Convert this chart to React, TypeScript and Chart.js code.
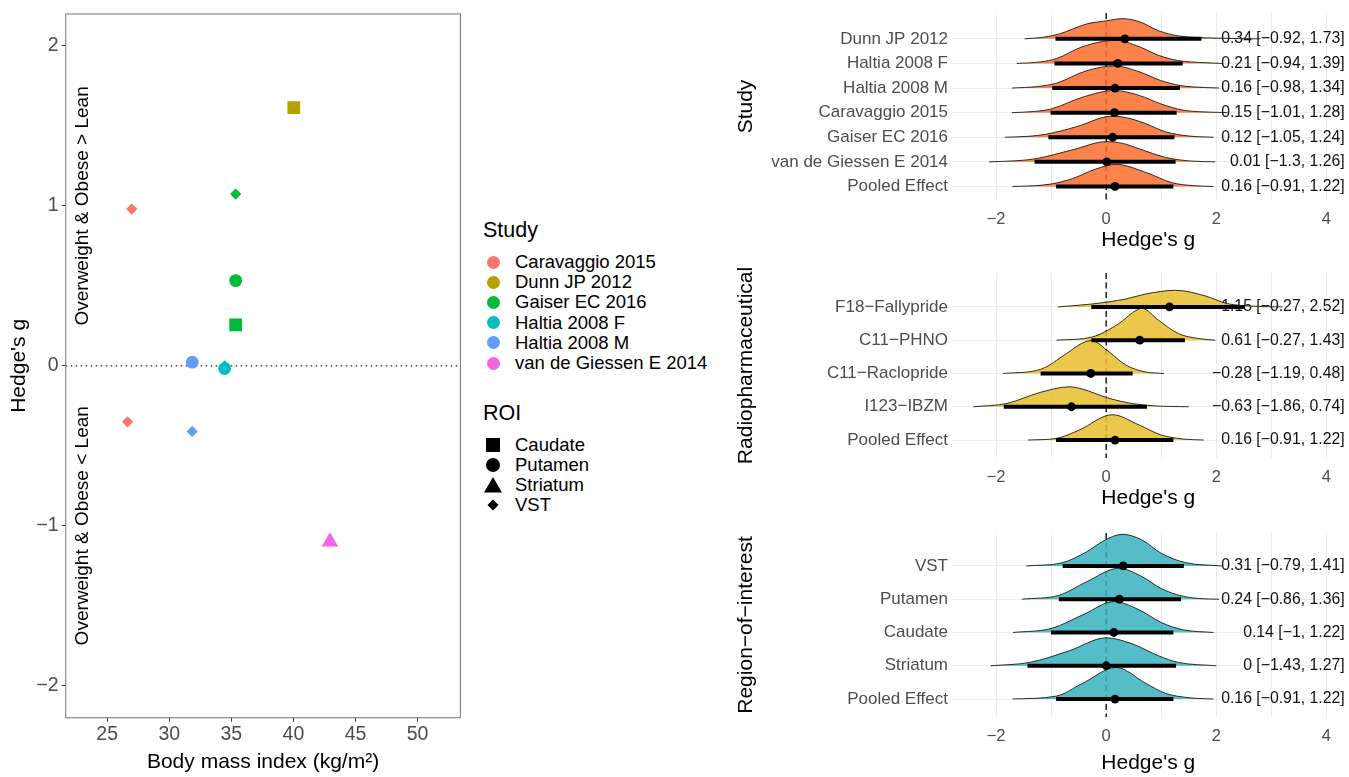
import React, { useEffect, useRef } from "react";
import { Chart, registerables } from "chart.js";

Chart.register(...registerables);

const FONT = '"Liberation Sans", Arial, Helvetica, sans-serif';
Chart.defaults.font.family = FONT;

// ---------- Scatter (left) data ----------
const studies = ["Caravaggio 2015", "Dunn JP 2012", "Gaiser EC 2016", "Haltia 2008 F", "Haltia 2008 M", "van de Giessen E 2014"];
const studyColors = ["#F8766D", "#B79F00", "#00BA38", "#00BFC4", "#619CFF", "#F564E3"];
const roiNames = ["Caudate", "Putamen", "Striatum", "VST"];
const roiStyles = ["rect", "circle", "triangle", "rectRot"];
const roiSizes = [9, 6.4, 9.6, 5.6];

const ptStudy = [0, 0, 1, 2, 2, 2, 4, 4, 3, 3, 5];
const ptRoi = [3, 3, 0, 3, 1, 0, 1, 3, 3, 1, 2];
const ptBmi = [26.98, 26.64, 40.03, 35.35, 35.35, 35.35, 31.85, 31.85, 34.46, 34.46, 42.94];
const ptG = [0.98, -0.35, 1.615, 1.074, 0.533, 0.256, 0.023, -0.41, 0.0, -0.017, -1.1];

const bmiTicks = [25, 30, 35, 40, 45, 50];
const gTicks = [-2, -1, 0, 1, 2];
const annoText = ["Overweight & Obese > Lean", "Overweight & Obese < Lean"];
const annoBmi = [23, 23];
const annoG = [1, -1];

// ---------- Ridge panels data ----------
const hedgeTicks = [-2, -1, 0, 1, 2, 3, 4];
const hedgeLabelled = [-2, 0, 2, 4];

const studyRows = ["Dunn JP 2012", "Haltia 2008 F", "Haltia 2008 M", "Caravaggio 2015", "Gaiser EC 2016", "van de Giessen E 2014", "Pooled Effect"];
const studyMean = [0.34, 0.21, 0.16, 0.15, 0.12, 0.01, 0.16];
const studyLo = [-0.92, -0.94, -0.98, -1.01, -1.05, -1.3, -0.91];
const studyHi = [1.73, 1.39, 1.34, 1.28, 1.24, 1.26, 1.22];
const studyDensX = [
  [-1.48, -1.15, -0.85, -0.36, 0, 0.29, 0.6, 0.95, 1.31, 2.0, 2.8],
  [-1.62, -1.2, -0.9, -0.43, 0.18, 0.6, 0.95, 1.3, 1.8, 2.1],
  [-1.71, -1.25, -0.9, -0.36, 0.16, 0.6, 1.0, 1.35, 1.8, 2.05],
  [-1.71, -1.3, -1.0, -0.4, 0.15, 0.6, 1.0, 1.4, 1.9, 2.2],
  [-1.84, -1.4, -1.1, -0.55, 0.11, 0.45, 0.72, 1.08, 1.5, 1.95],
  [-2.13, -1.6, -1.27, -0.61, 0, 0.3, 0.6, 1.08, 1.5, 1.98],
  [-1.7, -1.3, -1.0, -0.61, -0.2, 0.18, 0.72, 1.2, 1.6, 1.95],
];
const studyDensH = [
  [0, 0.06, 0.2, 0.6, 0.73, 0.82, 0.7, 0.33, 0.12, 0.03, 0],
  [0, 0.06, 0.2, 0.68, 0.94, 0.68, 0.33, 0.12, 0.03, 0],
  [0, 0.06, 0.2, 0.7, 0.9, 0.66, 0.3, 0.1, 0.02, 0],
  [0, 0.05, 0.15, 0.65, 0.9, 0.7, 0.35, 0.1, 0.02, 0],
  [0, 0.04, 0.12, 0.42, 0.86, 0.75, 0.55, 0.22, 0.05, 0],
  [0, 0.05, 0.13, 0.49, 0.82, 0.75, 0.53, 0.18, 0.04, 0],
  [0, 0.03, 0.1, 0.32, 0.7, 0.9, 0.57, 0.15, 0.03, 0],
];

const radioRows = ["F18\u2212Fallypride", "C11\u2212PHNO", "C11\u2212Raclopride", "I123\u2212IBZM", "Pooled Effect"];
const radioMean = [1.15, 0.61, -0.28, -0.63, 0.16];
const radioLo = [-0.27, -0.27, -1.19, -1.86, -0.91];
const radioHi = [2.52, 1.43, 0.48, 0.74, 1.22];
const radioDensX = [
  [-0.88, -0.25, 0.36, 0.72, 1.26, 1.8, 2.2, 2.7, 3.2],
  [-0.9, -0.25, 0.23, 0.5, 0.65, 0.95, 1.31, 1.68, 1.98],
  [-1.87, -1.2, -0.72, -0.45, -0.27, 0.05, 0.36, 0.7, 1.05],
  [-2.41, -1.8, -1.2, -0.67, -0.43, 0, 0.36, 0.84, 1.5],
  [-1.42, -0.9, -0.49, 0.11, 0.6, 1.0, 1.4, 1.77],
];
const radioDensH = [
  [0, 0.09, 0.24, 0.39, 0.5, 0.33, 0.1, 0.02, 0],
  [0, 0.1, 0.5, 0.85, 0.96, 0.6, 0.2, 0.05, 0],
  [0, 0.12, 0.6, 0.9, 0.99, 0.65, 0.25, 0.05, 0],
  [0, 0.1, 0.43, 0.6, 0.53, 0.28, 0.13, 0.03, 0],
  [0, 0.05, 0.3, 0.76, 0.45, 0.15, 0.03, 0],
];

const roiRows = ["VST", "Putamen", "Caudate", "Striatum", "Pooled Effect"];
const roiMean = [0.31, 0.24, 0.14, 0, 0.16];
const roiLo = [-0.79, -0.86, -1, -1.43, -0.91];
const roiHi = [1.41, 1.36, 1.22, 1.27, 1.22];
const roiDensX = [
  [-1.45, -0.79, -0.36, -0.07, 0.29, 0.65, 1.0, 1.44, 2.1],
  [-1.53, -0.85, -0.36, 0.23, 0.65, 1.0, 1.37, 1.7, 2.05],
  [-1.69, -1.0, -0.4, 0.14, 0.6, 1.0, 1.4, 1.95],
  [-2.1, -1.39, -0.67, 0, 0.47, 0.95, 1.31, 2.0],
  [-1.7, -0.9, -0.43, 0.18, 0.72, 1.08, 1.5, 1.95],
];
const roiDensH = [
  [0, 0.1, 0.42, 0.73, 0.95, 0.78, 0.38, 0.1, 0],
  [0, 0.12, 0.52, 0.93, 0.68, 0.32, 0.1, 0.02, 0],
  [0, 0.12, 0.55, 0.93, 0.68, 0.3, 0.08, 0],
  [0, 0.1, 0.45, 0.84, 0.66, 0.3, 0.1, 0],
  [0, 0.09, 0.47, 0.95, 0.47, 0.17, 0.04, 0],
];

const fmt = (v: number) => String(v).replace("-", "\u2212");

// ---------- Scatter chart ----------
function makeScatter(canvas: HTMLCanvasElement) {
  const decor = {
    id: "scatterDecor",
    beforeDatasetsDraw(chart: any) {
      const { ctx, chartArea: a, scales } = chart;
      const x = scales.x, y = scales.y;
      ctx.save();
      const y0 = y.getPixelForValue(0);
      ctx.setLineDash([1.5, 3.5]);
      ctx.strokeStyle = "#222";
      ctx.lineWidth = 1.3;
      ctx.beginPath();
      ctx.moveTo(a.left, y0);
      ctx.lineTo(a.right, y0);
      ctx.stroke();
      ctx.setLineDash([]);
      ctx.fillStyle = "#000";
      ctx.font = `19px ${FONT}`;
      ctx.textAlign = "center";
      ctx.textBaseline = "middle";
      annoText.forEach((t, i) => {
        ctx.save();
        ctx.translate(x.getPixelForValue(annoBmi[i]), y.getPixelForValue(annoG[i]));
        ctx.rotate(-Math.PI / 2);
        ctx.fillText(t, 0, 0);
        ctx.restore();
      });
      ctx.restore();
    },
    afterDraw(chart: any) {
      const { ctx, chartArea: a } = chart;
      ctx.save();
      ctx.strokeStyle = "#8a8a8a";
      ctx.lineWidth = 1.2;
      ctx.strokeRect(a.left, a.top, a.right - a.left, a.bottom - a.top);
      ctx.restore();
    },
  };
  return new Chart(canvas, {
    type: "scatter",
    data: {
      datasets: [
        {
          data: ptBmi.map((x, i) => ({ x, y: ptG[i] })),
          pointStyle: ptRoi.map((r) => roiStyles[r]) as any,
          pointRadius: ptRoi.map((r) => roiSizes[r]),
          pointBackgroundColor: ptStudy.map((s) => studyColors[s]),
          pointBorderColor: ptStudy.map((s) => studyColors[s]),
          pointBorderWidth: 0,
        },
      ],
    },
    options: {
      animation: false,
      responsive: false,
      events: [],
      layout: { padding: { top: 14, right: 8, left: 0, bottom: 0 } },
      plugins: { legend: { display: false }, tooltip: { enabled: false } },
      scales: {
        x: {
          type: "linear",
          min: 21.66,
          max: 53.45,
          afterBuildTicks: (s: any) => { s.ticks = bmiTicks.map((v) => ({ value: v })); },
          ticks: { callback: (v: any) => fmt(v), font: { size: 19.5 }, color: "#4D4D4D", padding: 1, maxRotation: 0, autoSkip: false },
          grid: { display: true, drawOnChartArea: false, drawTicks: true, tickLength: 4, tickColor: "#333", tickWidth: 1 },
          border: { display: false },
          title: { display: true, text: "Body mass index (kg/m\u00B2)", font: { size: 21 }, color: "#000", padding: { top: 0, bottom: 2 } },
          afterFit: (s: any) => { s.height = 59.3; s.paddingLeft = 0; s.paddingRight = 0; },
        },
        y: {
          type: "linear",
          min: -2.2,
          max: 2.2,
          afterBuildTicks: (s: any) => { s.ticks = gTicks.map((v) => ({ value: v })); },
          ticks: { callback: (v: any) => fmt(v), font: { size: 19.5 }, color: "#4D4D4D", padding: 3, autoSkip: false },
          grid: { display: true, drawOnChartArea: false, drawTicks: true, tickLength: 4, tickColor: "#333", tickWidth: 1 },
          border: { display: false },
          title: { display: true, text: "Hedge's g", font: { size: 21 }, color: "#000", padding: { top: 7, bottom: 0 } },
          afterFit: (s: any) => { s.width = 65.7; s.paddingTop = 0; s.paddingBottom = 0; },
        },
      },
    } as any,
    plugins: [decor],
  });
}

// ---------- Ridge charts ----------
type Panel = {
  rows: string[]; mean: number[]; lo: number[]; hi: number[];
  densX: number[][]; densH: number[][]; fill: string; title: string;
  yMin: number; yMax: number; axisH: number; titlePad: number;
};

const TOP_PAD = 30;

function makeRidge(canvas: HTMLCanvasElement, p: Panel) {
  const n = p.rows.length;
  const labels = p.mean.map((m, i) => `${fmt(m)} [${fmt(p.lo[i])}, ${fmt(p.hi[i])}]`);
  const datasets: any[] = [];
  p.densX.forEach((xs, i) => {
    const base = n - i;
    datasets.push({
      data: xs.map((x, j) => ({ x, y: base + p.densH[i][j] })),
      borderColor: "#1a1a1a",
      borderWidth: 0.9,
      backgroundColor: p.fill,
      fill: { value: base },
      pointRadius: 0,
      cubicInterpolationMode: "monotone",
      order: 100 - i,
    });
  });
  p.lo.forEach((lo, i) => {
    datasets.push({
      data: [{ x: lo, y: n - i }, { x: p.hi[i], y: n - i }],
      borderColor: "#000",
      borderWidth: 4,
      borderCapStyle: "butt",
      pointRadius: 0,
      fill: false,
      order: 1,
    });
  });
  datasets.push({
    data: p.mean.map((m, i) => ({ x: m, y: n - i })),
    showLine: false,
    pointRadius: 4.4,
    pointBackgroundColor: "#000",
    pointBorderColor: "#000",
    pointBorderWidth: 0,
    order: 0,
  });
  const rowTicks = () => p.rows.map((_, i) => ({ value: n - i }));
  const zeroLine = {
    id: "zeroLine",
    beforeDatasetsDraw(chart: any) {
      const { ctx, chartArea: a, scales } = chart;
      const x0 = scales.x.getPixelForValue(0);
      ctx.save();
      ctx.setLineDash([6, 3.5]);
      ctx.strokeStyle = "#000";
      ctx.lineWidth = 1.3;
      ctx.beginPath();
      ctx.moveTo(x0, a.top);
      ctx.lineTo(x0, a.bottom);
      ctx.stroke();
      ctx.restore();
    },
  };
  return new Chart(canvas, {
    type: "line",
    data: { datasets },
    options: {
      animation: false,
      responsive: false,
      events: [],
      layout: { padding: { left: 0, right: 2, top: TOP_PAD, bottom: 0 } },
      plugins: { legend: { display: false }, tooltip: { enabled: false } },
      scales: {
        x: {
          type: "linear",
          min: -2.8,
          max: 4.33,
          afterBuildTicks: (s: any) => { s.ticks = hedgeTicks.map((v) => ({ value: v })); },
          ticks: {
            callback: (v: any) => (hedgeLabelled.includes(v) ? fmt(v) : ""),
            font: { size: 16.5 }, color: "#4D4D4D", padding: 10, maxRotation: 0, autoSkip: false,
          },
          grid: { color: "#EBEBEB", lineWidth: 1, drawTicks: false },
          border: { display: false },
          title: { display: true, text: "Hedge's g", font: { size: 21 }, color: "#000", padding: { top: 0, bottom: p.titlePad } },
          afterFit: (s: any) => { s.height = p.axisH; s.paddingLeft = 0; s.paddingRight = 0; },
        },
        y: {
          type: "linear",
          position: "left",
          min: p.yMin,
          max: p.yMax,
          afterBuildTicks: (s: any) => { s.ticks = rowTicks(); },
          ticks: { callback: (v: any) => p.rows[n - Math.round(v)], font: { size: 17 }, color: "#4D4D4D", padding: 4, autoSkip: false },
          grid: { color: "#EBEBEB", lineWidth: 1, drawTicks: false },
          border: { display: false },
          title: { display: true, text: p.title, font: { size: 21 }, color: "#000", padding: { top: 4, bottom: 0 } },
          afterFit: (s: any) => { s.width = 222; s.paddingTop = 0; s.paddingBottom = 0; },
        },
        y2: {
          type: "linear",
          position: "right",
          min: p.yMin,
          max: p.yMax,
          afterBuildTicks: (s: any) => { s.ticks = rowTicks(); },
          ticks: { mirror: true, padding: 0, callback: (v: any) => labels[n - Math.round(v)], font: { size: 15.8 }, color: "#111", autoSkip: false },
          grid: { display: false },
          border: { display: false },
          afterFit: (s: any) => { s.width = 0; s.paddingTop = 0; s.paddingBottom = 0; },
        },
      },
    } as any,
    plugins: [zeroLine],
  });
}

const panels: Panel[] = [
  { rows: studyRows, mean: studyMean, lo: studyLo, hi: studyHi, densX: studyDensX, densH: studyDensH, fill: "rgba(252,108,45,0.85)", title: "Study", yMin: 0.45, yMax: 8.05, axisH: 57, titlePad: 4 },
  { rows: radioRows, mean: radioMean, lo: radioLo, hi: radioHi, densX: radioDensX, densH: radioDensH, fill: "rgba(232,190,45,0.85)", title: "Radiopharmaceutical", yMin: 0.46, yMax: 6.02, axisH: 57, titlePad: 4 },
  { rows: roiRows, mean: roiMean, lo: roiLo, hi: roiHi, densX: roiDensX, densH: roiDensH, fill: "rgba(55,178,190,0.85)", title: "Region\u2212of\u2212interest", yMin: 0.46, yMax: 5.99, axisH: 59, titlePad: 0 },
];
// chart-area top and full height of each panel (including x axis) in page pixels
const panelBoxes = [
  { top: 13, height: 244 },
  { top: 273, height: 242 },
  { top: 533, height: 243 },
];

function RoiKey({ shape }: { shape: string }) {
  let el: any = null;
  if (shape === "rect") el = <rect x={2} y={2} width={14} height={14} fill="#000" />;
  else if (shape === "circle") el = <circle cx={9} cy={9} r={7} fill="#000" />;
  else if (shape === "triangle") el = <polygon points="9,1 18,16.5 0,16.5" fill="#000" />;
  else el = <polygon points="9,3.5 14.5,9 9,14.5 3.5,9" fill="#000" />;
  return <svg width={18} height={18} style={{ display: "block" }}>{el}</svg>;
}

function Legend() {
  const studyY0 = 262, studyStep = 20.2, roiY0 = 445, roiStep = 20;
  const textStyle: any = { position: "absolute", left: 515, fontSize: 18.5, lineHeight: "20px", whiteSpace: "nowrap", color: "#000" };
  return (
    <>
      <div style={{ position: "absolute", left: 483, top: 230 - 13, fontSize: 21.5, lineHeight: "26px", color: "#000" }}>Study</div>
      {studies.map((s, i) => (
        <React.Fragment key={s}>
          <div style={{ position: "absolute", left: 493 - 6.5, top: studyY0 + i * studyStep - 6.5, width: 13, height: 13, borderRadius: "50%", background: studyColors[i] }} />
          <div style={{ ...textStyle, top: studyY0 + i * studyStep - 10 }}>{s}</div>
        </React.Fragment>
      ))}
      <div style={{ position: "absolute", left: 483, top: 413 - 13, fontSize: 21.5, lineHeight: "26px", color: "#000" }}>ROI</div>
      {roiNames.map((r, i) => (
        <React.Fragment key={r}>
          <div style={{ position: "absolute", left: 493 - 9, top: roiY0 + i * roiStep - 9 }}>
            <RoiKey shape={roiStyles[i]} />
          </div>
          <div style={{ ...textStyle, top: roiY0 + i * roiStep - 10 }}>{r}</div>
        </React.Fragment>
      ))}
    </>
  );
}

export default function App() {
  const scatterRef = useRef<HTMLCanvasElement>(null);
  const r0 = useRef<HTMLCanvasElement>(null);
  const r1 = useRef<HTMLCanvasElement>(null);
  const r2 = useRef<HTMLCanvasElement>(null);
  useEffect(() => {
    const charts: Chart[] = [];
    if (scatterRef.current) charts.push(makeScatter(scatterRef.current));
    [r0, r1, r2].forEach((r, i) => {
      if (r.current) charts.push(makeRidge(r.current, panels[i]));
    });
    return () => charts.forEach((c) => c.destroy());
  }, []);
  const refs = [r0, r1, r2];
  return (
    <div style={{ position: "fixed", left: 0, top: 0, width: 1349, height: 777, overflow: "hidden", background: "#fff", fontFamily: FONT }}>
      <canvas ref={scatterRef} width={470} height={777} style={{ position: "absolute", left: 0, top: 0, width: 470, height: 777 }} />
      <Legend />
      {panelBoxes.map((b, i) => (
        <canvas
          key={i}
          ref={refs[i]}
          width={619}
          height={b.height + TOP_PAD}
          style={{ position: "absolute", left: 730, top: b.top - TOP_PAD, width: 619, height: b.height + TOP_PAD }}
        />
      ))}
    </div>
  );
}
